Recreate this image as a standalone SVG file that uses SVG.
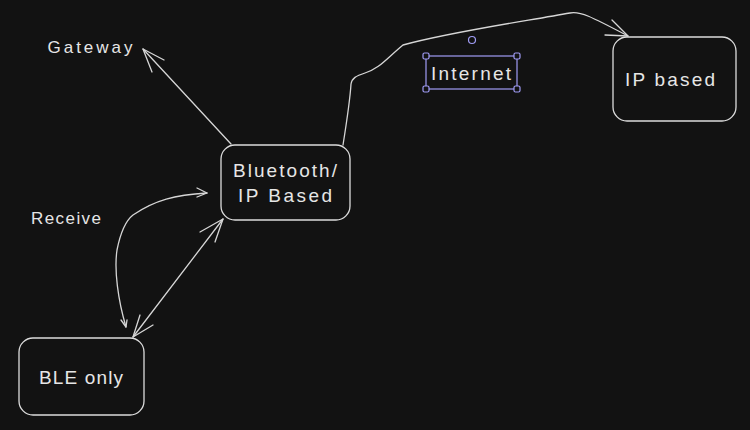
<svg xmlns="http://www.w3.org/2000/svg" width="750" height="430" viewBox="0 0 750 430">
<style>
.bg{fill:#121212}
.box{fill:none;stroke:#dcdcdc;stroke-width:1.3}
.edge{fill:none;stroke:#d6d6d6;stroke-width:1.3;stroke-linecap:round;stroke-linejoin:round}
.t{font-family:"Liberation Sans",Arial,sans-serif;fill:#e6e6e6;text-anchor:middle;font-size:19px}
.sel{fill:none;stroke:#a09cf5;stroke-width:1.2}
.h{fill:#121212;stroke:#a09cf5;stroke-width:1.2}
</style>
<rect class="bg" width="750" height="430"/>
<g id="connectors">
  <g id="e-gateway">
    <path class="edge" d="M231 144 L143 49"/>
    <path class="edge" d="M164 60 L143 49 L152 72"/>
  </g>
  <g id="e-internet">
    <path class="edge" d="M343 145 C347 120 350 100 351 84 C352 78 356 76 365 73 C380 68 385 60 403 45 C450 32 520 22 570 13 C580 11 590 16 628 36"/>
    <path class="edge" d="M612 20 L628 36 L605 35"/>
  </g>
  <g id="e-receive">
    <path class="edge" d="M126 327 C118 300 114 270 117 250 C120 235 124 222 133 215 C155 200 175 195 207 193"/>
    <path class="edge" d="M197 188 L207 193 L197 197"/>
    <path class="edge" d="M121 320 L126 327 L127 320"/>
  </g>
  <g id="e-ble-bt">
    <path class="edge" d="M133 337 L223 219"/>
    <path class="edge" d="M140 315 L133 337 L153 325"/>
    <path class="edge" d="M200 232 L223 219 L215 242"/>
  </g>
</g>
<g id="n-bluetooth">
  <rect class="box" x="221" y="145" width="129" height="75" rx="14"/>
  <text class="t" x="285" y="177" textLength="104" lengthAdjust="spacing">Bluetooth/</text>
  <text class="t" x="285" y="202" textLength="94" lengthAdjust="spacing">IP Based</text>
</g>
<g id="n-ble">
  <rect class="box" x="19" y="338" width="125" height="77" rx="14"/>
  <text class="t" x="81" y="384" textLength="84" lengthAdjust="spacing">BLE only</text>
</g>
<g id="n-ip">
  <rect class="box" x="613" y="37" width="123" height="84" rx="14"/>
  <text class="t" x="670" y="86" textLength="90" lengthAdjust="spacing">IP based</text>
</g>
<g id="l-internet">
  <rect class="sel" x="426" y="56" width="91" height="33"/>
  <rect class="h" x="423" y="53" width="6" height="6" rx="1.5"/>
  <rect class="h" x="514" y="53" width="6" height="6" rx="1.5"/>
  <rect class="h" x="423" y="86" width="6" height="6" rx="1.5"/>
  <rect class="h" x="514" y="86" width="6" height="6" rx="1.5"/>
  <circle class="h" cx="472" cy="40" r="3.5"/>
  <text class="t" x="471" y="80" textLength="80" lengthAdjust="spacing">Internet</text>
</g>
<g id="l-gateway">
  <text class="t" x="90" y="53" style="font-size:17px" textLength="85" lengthAdjust="spacing">Gateway</text>
</g>
<g id="l-receive">
  <text class="t" x="66" y="224" style="font-size:17px" textLength="70" lengthAdjust="spacing">Receive</text>
</g>
</svg>
